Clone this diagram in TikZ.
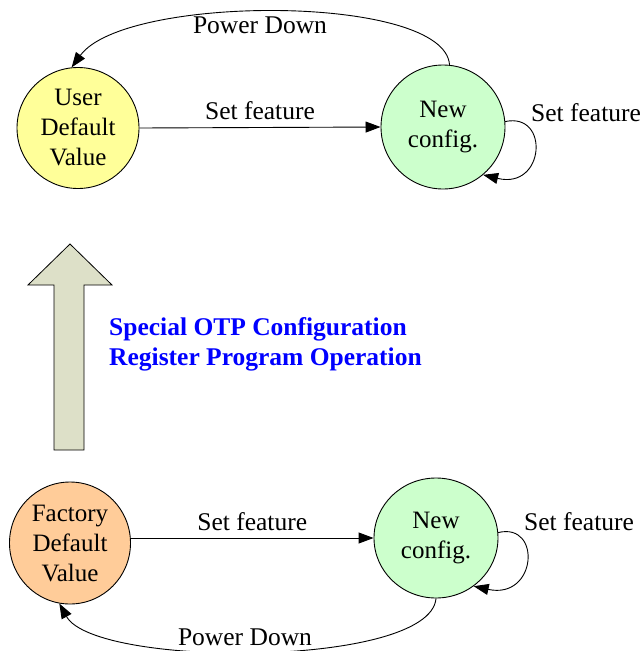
\documentclass[tikz,border=0pt]{standalone}
\usepackage{fontspec}
\setmainfont{Liberation Serif}
\usetikzlibrary{shapes.geometric,arrows.meta}
\definecolor{uyellow}{HTML}{FFFF99}
\definecolor{ngreen}{HTML}{CCFFCC}
\definecolor{forange}{HTML}{FFCC99}
\definecolor{bigarrow}{HTML}{DDE0C8}
\tikzset{
  state/.style={ellipse,draw,line width=0.9pt,inner sep=0pt,align=center,font=\fontsize{25}{30}\selectfont},
  tr/.style={line width=0.9pt,-{Triangle[length=15pt,width=11pt]}},
  lbl/.style={font=\fontsize{25.5}{30}\selectfont,inner sep=0pt},
  blue text/.style={font=\fontsize{25.5}{30}\selectfont\bfseries,text=blue,align=left,inner sep=0pt}
}
\begin{document}
\begin{tikzpicture}[x=1pt,y=-1pt]
\useasboundingbox (0,0) rectangle (640,651);
% top
\node[state,fill=uyellow,minimum width=122pt,minimum height=121pt] (ud) at (78,128) {User\\Default\\Value};
\node[state,fill=ngreen,minimum width=124pt,minimum height=124pt] (nc1) at (443,127) {New\\config.};
\draw[tr] (ud.east) -- (nc1.west) node[lbl,midway,above=7pt] (sf1) {Set feature};
\draw[tr] (nc1.5) .. controls (550,112) and (545,190) .. (nc1.-50);
\node[lbl,anchor=west] (sf1b) at (531,113) {Set feature};
\draw[tr] (nc1.84) .. controls (445,-6) and (125,-6) .. (ud.96);
\node[lbl] (pd1) at (260,25) {Power Down};
% big arrow
\draw[line width=0.8pt,fill=bigarrow] (54,450) -- (54,285) -- (28,285) -- (70,244) -- (112,285) -- (84,285) -- (84,450) -- cycle;
\node[blue text,anchor=north west] (otp) at (109,317) {Special OTP Configuration\\Register Program Operation};
% bottom
\node[state,fill=forange,minimum width=121pt,minimum height=122pt] (fd) at (70,543) {Factory\\Default\\Value};
\node[state,fill=ngreen,minimum width=124pt,minimum height=120pt] (nc2) at (436,538) {New\\config.};
\draw[tr] (fd.east |- nc2.west) -- (nc2.west) node[lbl,midway,above=7pt] (sf2) {Set feature};
\draw[tr] (nc2.5) .. controls (542,522) and (537,600) .. (nc2.-52);
\node[lbl,anchor=west] (sf2b) at (524,522) {Set feature};
\draw[tr] (nc2.-90) .. controls (430,668) and (95,668) .. (fd.-100);
\node[lbl] (pd2) at (245,637) {Power Down};
\end{tikzpicture}
\end{document}
